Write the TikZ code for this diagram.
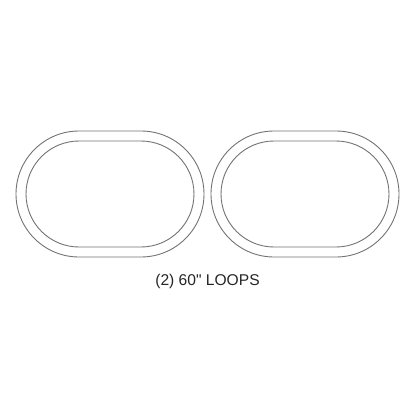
\documentclass[tikz,border=0pt]{standalone}
\usepackage{fontspec}
\setmainfont{Liberation Sans}[Ligatures=TeXOff]
\begin{document}
\begin{tikzpicture}[x=1pt,y=-1pt,
  loop/.style={draw=black!55,line width=0.9pt},
  lbl/.style={font=\fontsize{15.6}{18}\selectfont,text=black!85,inner sep=0pt,anchor=base}]
\useasboundingbox[fill=white] (0,0) rectangle (416,416);
% left loop
\draw[loop,rounded corners=63] (16,131) rectangle (204,257);
\draw[loop,rounded corners=53] (26,141) rectangle (194,247);
% right loop
\draw[loop,rounded corners=63] (211,131) rectangle (399,257);
\draw[loop,rounded corners=53] (221,141) rectangle (389,247);
\node[lbl] (t) at (207.5,285) {(2) 60" LOOPS};
\end{tikzpicture}
\end{document}
